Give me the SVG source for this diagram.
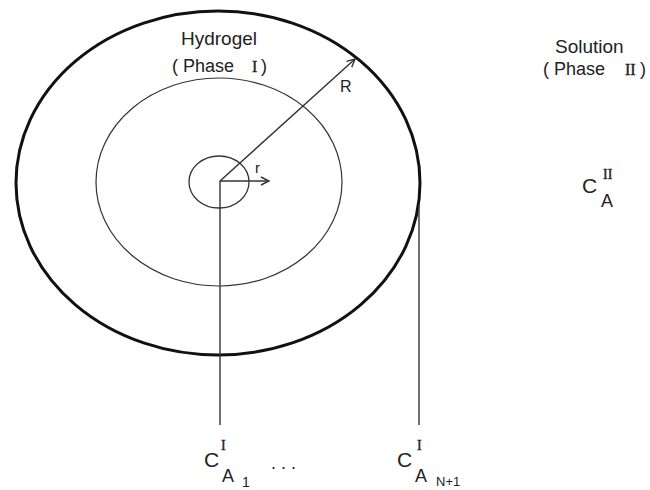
<svg xmlns="http://www.w3.org/2000/svg" width="650" height="490" viewBox="0 0 650 490">
<style>
.s{font-family:"Liberation Sans",Arial,sans-serif;fill:#222}
.r{font-family:"Liberation Serif","Times New Roman",serif;fill:#222;stroke:#222;stroke-width:0.4}
.ln{fill:none;stroke:#333;stroke-width:1.4}
</style>
<defs>
<marker id="ah" markerWidth="10" markerHeight="10" refX="9" refY="5" orient="auto" markerUnits="userSpaceOnUse">
<path d="M1,1 L9,5 L1,9" fill="none" stroke="#333" stroke-width="1.4"/>
</marker>
</defs>
<rect width="650" height="490" fill="#fff"/>
<g id="outer"><ellipse cx="218" cy="183" rx="202" ry="172" fill="none" stroke="#111" stroke-width="3"/></g>
<g id="middle"><ellipse cx="219" cy="182" rx="123" ry="104" fill="none" stroke="#333" stroke-width="1.2"/></g>
<g id="inner"><ellipse cx="219" cy="182" rx="30" ry="26" fill="none" stroke="#333" stroke-width="1.3"/></g>
<g id="connectors">
<line class="ln" x1="220" y1="181" x2="355" y2="59" marker-end="url(#ah)"/>
<line class="ln" x1="220" y1="181" x2="269" y2="181" marker-end="url(#ah)"/>
<line class="ln" x1="220" y1="181" x2="220" y2="425"/>
<line class="ln" x1="419" y1="205" x2="419" y2="425"/>
</g>
<g id="hydrogel">
<text class="s" x="219" y="45" font-size="19" text-anchor="middle">Hydrogel</text>
<text class="s" font-size="18" y="72"><tspan x="172">( Phase</tspan><tspan class="r" x="252" font-size="16">I</tspan><tspan x="261">)</tspan></text>
</g>
<g id="solution">
<text class="s" x="555" y="53" font-size="19">Solution</text>
<text class="s" font-size="18" y="75"><tspan x="543">( Phase</tspan><tspan class="r" x="625" font-size="16">II</tspan><tspan x="640">)</tspan></text>
</g>
<g id="labels">
<text class="s" x="340" y="92" font-size="16">R</text>
<text class="s" x="255" y="173" font-size="15">r</text>
</g>
<g id="cAII">
<text class="s" x="582" y="193" font-size="21">C</text>
<text class="r" x="603" y="179" font-size="14">II</text>
<text class="s" x="601" y="207" font-size="18">A</text>
</g>
<g id="cA1">
<text class="s" x="204" y="467" font-size="21">C</text>
<text class="r" x="221" y="450" font-size="14">I</text>
<text class="s" x="222" y="482" font-size="18">A</text>
<text class="s" x="242" y="487" font-size="14">1</text>
<text class="s" x="271" y="469" font-size="18">. . .</text>
</g>
<g id="cAN1">
<text class="s" x="397" y="467" font-size="21">C</text>
<text class="r" x="417" y="450" font-size="14">I</text>
<text class="s" x="415" y="482" font-size="18">A</text>
<text class="s" x="436" y="486" font-size="13">N+1</text>
</g>
</svg>
